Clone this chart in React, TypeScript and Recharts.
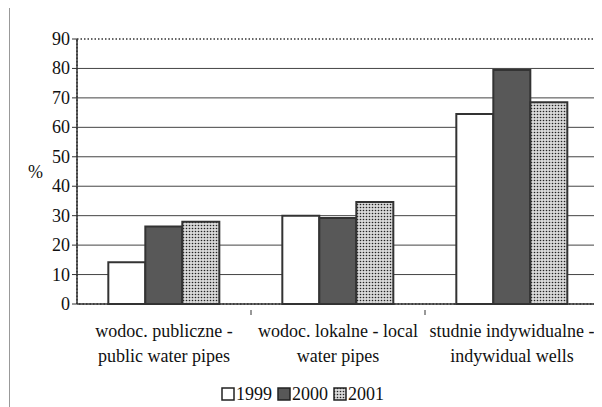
import React from 'react';
import { BarChart, Bar, XAxis, YAxis, CartesianGrid, ReferenceArea } from 'recharts';

const categoryLines: string[][] = [
  ['wodoc. publiczne -', 'public water pipes'],
  ['wodoc. lokalne - local', 'water pipes'],
  ['studnie indywidualne -', 'indywidual wells'],
];
const categories = ['public', 'local', 'wells'];
const series1999 = [14.2, 30, 64.5];
const series2000 = [26.3, 29.2, 79.5];
const series2001 = [27.9, 34.6, 68.5];
const yTicks = [0, 10, 20, 30, 40, 50, 60, 70, 80, 90];
const seriesNames = ['1999', '2000', '2001'];

const data = categories.map((c, i) => ({
  cat: c,
  y1999: series1999[i],
  y2000: series2000[i],
  y2001: series2001[i],
}));

const FONT = 'Liberation Serif';
const fills = ['#ffffff', '#585858', 'url(#dots)'];

const CatTick = (props: any) => {
  const { x, y, payload, index } = props;
  const lines = categoryLines[index] || [];
  const off = payload && payload.offset ? payload.offset : 0;
  return (
    <g>
      {index > 0 && off ? (
        <line x1={x - off} x2={x - off} y1={y - 2} y2={y + 3} stroke="#333" strokeWidth={1} />
      ) : null}
      {lines.map((l, k) => (
        <text key={k} x={x} y={y + 25 + k * 25} textAnchor="middle" style={{ fontFamily: FONT, fontSize: 18 }} fill="#111">
          {l}
        </text>
      ))}
    </g>
  );
};

const YTick = (props: any) => {
  const { x, y, payload } = props;
  return (
    <text x={x} y={y + 6} textAnchor="end" style={{ fontFamily: FONT, fontSize: 18 }} fill="#111">
      {payload.value}
    </text>
  );
};

const LegendBlock = () => (
  <div
    style={{
      position: 'absolute',
      left: 0,
      top: 375,
      width: 594,
      height: 22,
      display: 'flex',
      justifyContent: 'center',
      alignItems: 'center',
      fontFamily: FONT,
      fontSize: 18,
      color: '#111',
    }}
  >
    {seriesNames.map((n, i) => (
      <span key={n} style={{ display: 'inline-flex', alignItems: 'center', marginRight: 5 }}>
        <svg width={14} height={14} style={{ marginRight: 1 }}>
          <rect x={1} y={1} width={12} height={12} fill={i === 2 ? 'url(#dots)' : fills[i]} stroke="#222" strokeWidth={1.5} />
        </svg>
        {n}
      </span>
    ))}
  </div>
);

export default function App() {
  return (
    <div style={{ position: 'relative', width: 594, height: 399 }}>
      <LegendBlock />
      <div style={{ position: 'absolute', left: 1, top: -8, width: 0, height: 407, borderLeft: '1px solid #999' }} />
      <BarChart
        width={594}
        height={399}
        data={data}
        margin={{ top: 31, right: 3, left: 3, bottom: 38 }}
        barCategoryGap="18%"
        barGap={0}
      >
        <defs>
          <pattern id="dots" width="3" height="3" patternUnits="userSpaceOnUse">
            <rect width="3" height="3" fill="#d8d8d8" />
            <circle cx="1.5" cy="1.5" r="0.8" fill="#222" />
          </pattern>
        </defs>
        <CartesianGrid vertical={false} horizontalValues={yTicks.slice(1, 9)} stroke="#444" strokeWidth={1} />
        <ReferenceArea y1={0} y2={90} fill="none" fillOpacity={0} stroke="#333" strokeDasharray="1.5 2" strokeWidth={1.5} />
        <XAxis
          dataKey="cat"
          tick={<CatTick />}
          tickLine={false}
          axisLine={{ stroke: '#333', strokeWidth: 1.5 }}
          height={65}
          interval={0}
        />
        <YAxis
          domain={[0, 90]}
          ticks={yTicks}
          width={66}
          tickSize={5}
          tick={<YTick />}
          tickLine={{ stroke: '#333' }}
          axisLine={{ stroke: '#333', strokeWidth: 1.5 }}
          label={{ value: '%', position: 'insideLeft', offset: 17, style: { fontFamily: FONT, fontSize: 18, fill: '#111' } }}
        />
        <Bar dataKey="y1999" name="1999" fill={fills[0]} stroke="#333" strokeWidth={2} isAnimationActive={false} />
        <Bar dataKey="y2000" name="2000" fill={fills[1]} stroke="#333" strokeWidth={2} isAnimationActive={false} />
        <Bar dataKey="y2001" name="2001" fill={fills[2]} stroke="#333" strokeWidth={2} isAnimationActive={false} />
      </BarChart>
    </div>
  );
}
